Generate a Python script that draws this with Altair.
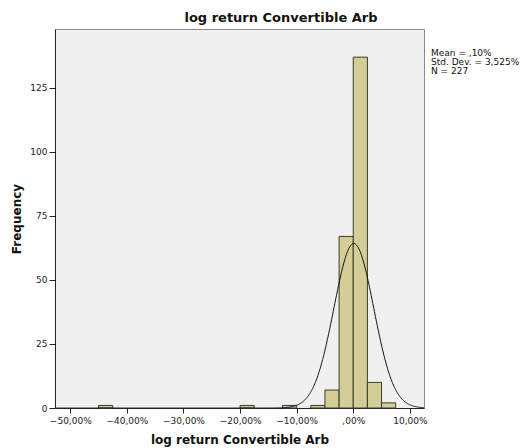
import altair as alt
import numpy as np
import pandas as pd

# Histogram of monthly log returns (bin width 2.5 percentage points)
bin_start = [-45.0, -20.0, -12.5, -7.5, -5.0, -2.5, 0.0, 2.5, 5.0]
bin_width = 2.5
counts = [1, 1, 1, 1, 7, 67, 137, 10, 2]

mean_pct = 0.10
sd_pct = 3.525
n_obs = 227

x_ticks = [-50, -40, -30, -20, -10, 0, 10]
y_ticks = [0, 25, 50, 75, 100, 125]
x_domain = [-52.7, 12.5]
y_domain = [0, 148]

stats_lines = ["Mean = ,10%", "Std. Dev. = 3,525%", "N = 227"]
chart_title = "log return Convertible Arb"

FONT = "DejaVu Sans"
W, H = 369, 379

bars = pd.DataFrame({
    "start": bin_start,
    "end": [b + bin_width for b in bin_start],
    "count": counts,
})

# Fitted normal curve scaled to the histogram counts
xs = np.linspace(x_domain[0], x_domain[1], 700)
ys = n_obs * bin_width / (sd_pct * np.sqrt(2 * np.pi)) * np.exp(-0.5 * ((xs - mean_pct) / sd_pct) ** 2)
curve = pd.DataFrame({"x": xs, "y": ys})

x_scale = alt.Scale(domain=x_domain, nice=False, zero=False)
y_scale = alt.Scale(domain=y_domain, nice=False)

label_expr = "datum.value == 0 ? ',00%' : replace(format(datum.value, '.2f'), '.', ',') + '%'"

hist = alt.Chart(bars).mark_rect(
    fill="#D3CE97", stroke="#3a3a2a", strokeWidth=1
).encode(
    x=alt.X("start:Q", scale=x_scale,
            axis=alt.Axis(values=x_ticks, labelExpr=label_expr, title=chart_title,
                          grid=False, tickSize=5, tickColor="#222", domainColor="#222",
                          labelFont=FONT, labelFontSize=9, labelColor="#222", labelPadding=3,
                          titleFont=FONT, titleFontSize=12, titleFontWeight="bold",
                          titleColor="#111", titlePadding=9)),
    x2="end:Q",
    y=alt.Y("count:Q", scale=y_scale,
            axis=alt.Axis(values=y_ticks, title="Frequency", grid=False, tickSize=6,
                          tickColor="#222", domainColor="#222",
                          labelFont=FONT, labelFontSize=9, labelColor="#222", labelPadding=2,
                          titleFont=FONT, titleFontSize=12, titleFontWeight="bold",
                          titleColor="#111", titlePadding=6)),
    y2=alt.Y2(datum=0),
)

line = alt.Chart(curve).mark_line(color="#111", strokeWidth=1, clip=True).encode(
    x=alt.X("x:Q", scale=x_scale),
    y=alt.Y("y:Q", scale=y_scale),
)

one_row = pd.DataFrame({"k": [0]})

title = alt.Chart(one_row).mark_text(
    align="center", baseline="middle", font=FONT, fontSize=13, fontWeight="bold",
    color="#111", text=chart_title,
).encode(x=alt.value(226), y=alt.value(-11))

# Summary statistics printed to the right of the plot frame
stats = [
    alt.Chart(one_row).mark_text(
        align="left", baseline="middle", font=FONT, fontSize=9, color="#111", text=s,
    ).encode(x=alt.value(W + 7), y=alt.value(24 + 9 * i))
    for i, s in enumerate(stats_lines)
]

final = alt.layer(hist, line, title, *stats).properties(
    width=W, height=H,
    autosize=alt.AutoSizeParams(type="none"),
    padding={"left": 55, "top": 29, "right": 104, "bottom": 40},
).configure_view(
    fill="#F0F0F0", stroke="#8a8a8a", strokeWidth=1
)

final.save("out.html", embed_options={"renderer": "svg", "actions": False})
